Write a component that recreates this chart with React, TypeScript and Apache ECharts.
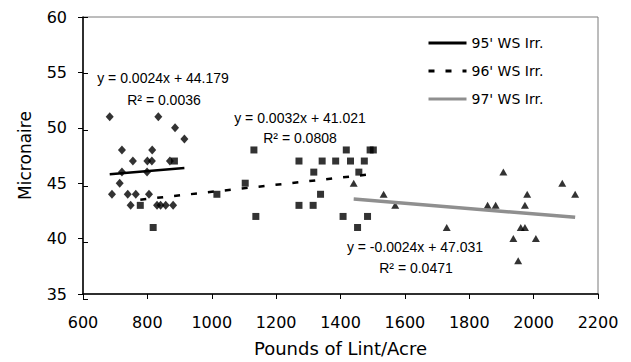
import React, { useEffect, useRef } from "react";
import * as echarts from "echarts";

// ---- data ----
const yield95 = [683, 834, 886, 915, 721, 815, 755, 800, 814, 870, 721, 799, 714, 690, 739, 764, 805, 748, 830, 841, 857, 880];
const mic95 = [51, 51, 50, 49, 48, 48, 47, 47, 47, 47, 46, 46, 45, 44, 44, 44, 44, 43, 43, 43, 43, 43];

const yield96 = [778, 818, 884, 1016, 1104, 1131, 1137, 1271, 1271, 1317, 1315, 1338, 1343, 1385, 1418, 1431, 1474, 1457, 1492, 1502, 1408, 1484, 1453];
const mic96 = [43, 41, 47, 44, 45, 48, 42, 47, 43, 46, 43, 44, 47, 47, 48, 47, 47, 46, 48, 48, 42, 42, 41];

const yield97 = [1441, 1534, 1570, 1730, 1857, 1882, 1906, 1937, 1952, 1960, 1973, 1973, 1980, 2007, 2089, 2129];
const mic97 = [45, 44, 43, 41, 43, 43, 46, 40, 38, 41, 41, 43, 44, 40, 45, 44];

const seriesNames = ["95' WS Irr.", "96' WS Irr.", "97' WS Irr."];
const slopes = [0.0024, 0.0032, -0.0024];
const intercepts = [44.179, 41.021, 47.031];
const equationTexts = ["y = 0.0024x + 44.179", "y = 0.0032x + 41.021", "y = -0.0024x + 47.031"];
const r2Texts = ["R² = 0.0036", "R² = 0.0808", "R² = 0.0471"];

const xMin = 600, xMax = 2200, xStep = 200;
const yMin = 35, yMax = 60, yStep = 5;
const xTitle = "Pounds of Lint/Acre";
const yTitle = "Micronaire";

const WIDE = '"DejaVu Sans", sans-serif';
const ARIAL = '"Liberation Sans", Arial, sans-serif';

function pairs(xs: number[], ys: number[]) {
  return xs.map((x, i) => [x, ys[i]]);
}
function trend(xs: number[], k: number) {
  const lo = Math.min(...xs);
  const hi = Math.max(...xs);
  return [
    [lo, slopes[k] * lo + intercepts[k]],
    [hi, slopes[k] * hi + intercepts[k]],
  ];
}

export default function App() {
  const ref = useRef<HTMLDivElement>(null);
  useEffect(() => {
    if (!ref.current) return;
    const chart = echarts.init(ref.current, undefined, { renderer: "svg" });
    const gridRect = { left: 83, right: 33, top: 17, bottom: 63 };
    const eqPos = [
      [163, 78, 164, 100],
      [300, 118, 300, 138],
      [415, 247, 416, 268],
    ];
    const graphics: any[] = [];
    eqPos.forEach((p, i) => {
      graphics.push({
        type: "text",
        x: p[0],
        y: p[1],
        style: { text: equationTexts[i], fill: "#000", font: `14px ${ARIAL}`, align: "center", verticalAlign: "middle" },
      });
      graphics.push({
        type: "text",
        x: p[2],
        y: p[3],
        style: { text: r2Texts[i], fill: "#000", font: `14px ${ARIAL}`, align: "center", verticalAlign: "middle" },
      });
    });

    chart.setOption({
      animation: false,
      backgroundColor: "#fff",
      grid: [
        { ...gridRect, show: true, borderColor: "#7a7a7a", borderWidth: 1, backgroundColor: "transparent" },
        { ...gridRect, show: false },
      ],
      legend: {
        data: seriesNames,
        orient: "vertical",
        left: 422,
        top: 31,
        itemWidth: 38,
        itemHeight: 14,
        itemGap: 14,
        itemStyle: { opacity: 0 },
        lineStyle: { width: 3 },
        textStyle: { fontFamily: WIDE, fontSize: 14, color: "#000" },
      },
      xAxis: [
        {
          type: "value",
          gridIndex: 0,
          min: xMin,
          max: xMax,
          interval: xStep,
          axisLine: { show: true, lineStyle: { color: "#000", width: 1.5 } },
          axisTick: { show: true, inside: false, length: 5, lineStyle: { color: "#000", width: 1 } },
          axisLabel: { margin: 20, fontFamily: WIDE, fontSize: 16, color: "#000", formatter: (v: number) => String(v) },
          splitLine: { show: false },
          name: xTitle,
          nameLocation: "middle",
          nameGap: 45,
          nameTextStyle: { fontFamily: WIDE, fontSize: 18, color: "#000" },
        },
        {
          type: "value",
          gridIndex: 1,
          min: xMin,
          max: xMax,
          interval: xStep,
          axisLine: { show: false },
          axisTick: { show: true, inside: true, length: 5, lineStyle: { color: "#000", width: 1 } },
          axisLabel: { show: false },
          splitLine: { show: false },
        },
      ],
      yAxis: [
        {
          type: "value",
          gridIndex: 0,
          min: yMin,
          max: yMax,
          interval: yStep,
          axisLine: { show: true, lineStyle: { color: "#000", width: 1.5 } },
          axisTick: { show: true, inside: false, length: 5, lineStyle: { color: "#000", width: 1 } },
          axisLabel: { margin: 16, fontFamily: WIDE, fontSize: 16, color: "#000" },
          splitLine: { show: false },
          name: yTitle,
          nameLocation: "middle",
          nameGap: 50,
          nameTextStyle: { fontFamily: WIDE, fontSize: 17, color: "#000" },
        },
        {
          type: "value",
          gridIndex: 1,
          min: yMin,
          max: yMax,
          interval: yStep,
          axisLine: { show: false },
          axisTick: { show: true, inside: true, length: 5, lineStyle: { color: "#000", width: 1 } },
          axisLabel: { show: false },
          splitLine: { show: false },
        },
      ],
      series: [
        {
          type: "scatter",
          name: "95 data",
          xAxisIndex: 0,
          yAxisIndex: 0,
          data: pairs(yield95, mic95),
          symbol: "diamond",
          symbolSize: [8, 9],
          itemStyle: { color: "#000" },
        },
        {
          type: "scatter",
          name: "96 data",
          xAxisIndex: 0,
          yAxisIndex: 0,
          data: pairs(yield96, mic96),
          symbol: "rect",
          symbolSize: 7,
          itemStyle: { color: "#000" },
        },
        {
          type: "scatter",
          name: "97 data",
          xAxisIndex: 0,
          yAxisIndex: 0,
          data: pairs(yield97, mic97),
          symbol: "triangle",
          symbolSize: [8, 7],
          itemStyle: { color: "#000" },
        },
        {
          type: "line",
          name: seriesNames[0],
          xAxisIndex: 0,
          yAxisIndex: 0,
          data: trend(yield95, 0),
          symbol: "none",
          lineStyle: { color: "#000", width: 2.5, type: "solid" },
          itemStyle: { color: "#000" },
        },
        {
          type: "line",
          name: seriesNames[1],
          xAxisIndex: 0,
          yAxisIndex: 0,
          data: trend(yield96, 1),
          symbol: "none",
          lineStyle: { color: "#000", width: 2.5, type: [6, 11] },
          itemStyle: { color: "#000" },
        },
        {
          type: "line",
          name: seriesNames[2],
          xAxisIndex: 0,
          yAxisIndex: 0,
          data: trend(yield97, 2),
          symbol: "none",
          lineStyle: { color: "#8f8f8f", width: 3.5, type: "solid" },
          itemStyle: { color: "#8f8f8f" },
        },
      ],
      graphic: graphics,
    });
    return () => chart.dispose();
  }, []);
  return (
    <div
      ref={ref}
      style={{ position: "fixed", left: 0, top: 0, width: 631, height: 362, background: "#fff" }}
    />
  );
}
